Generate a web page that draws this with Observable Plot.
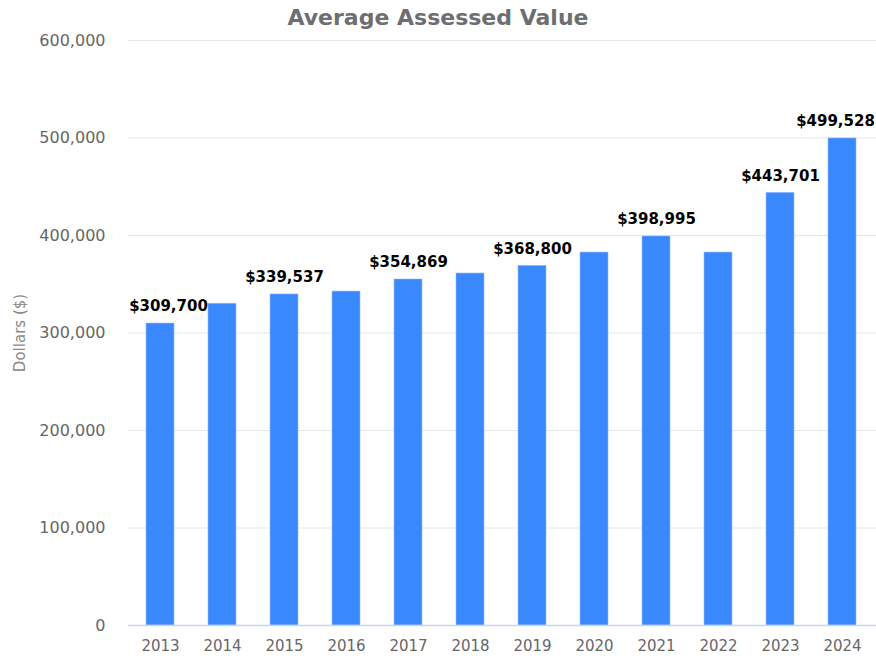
<!DOCTYPE html>
<html>
<head>
<meta charset="utf-8">
<script src="https://cdn.jsdelivr.net/npm/d3@7"></script>
<script src="https://cdn.jsdelivr.net/npm/@observablehq/plot@0.6"></script>
<style>
  body { margin: 0; background: #fff; }
  #wrap { position: relative; width: 876px; height: 658px; font-family: "DejaVu Sans", sans-serif; }
  #title { position: absolute; top: 5px; left: 0; width: 876px; text-align: center; font-weight: bold; font-size: 22px; color: #6d6e71; }
</style>
</head>
<body>
<div id="wrap"><div id="title">Average Assessed Value</div></div>
<script>
const years = ["2013","2014","2015","2016","2017","2018","2019","2020","2021","2022","2023","2024"];
const values = [309700, 330000, 339537, 342500, 354869, 361000, 368800, 382500, 398995, 382500, 443701, 499528];
const labeledYears = ["2013","2015","2017","2019","2021","2023","2024"];
const yTicks = [0, 100000, 200000, 300000, 400000, 500000, 600000];

const data = years.map((y, i) => ({year: y, value: values[i]}));
const labeled = data.filter(d => labeledYears.includes(d.year));
const first = labeled.filter(d => d.year === years[0]);
const last = labeled.filter(d => d.year === years[years.length - 1]);
const mid = labeled.filter(d => d.year !== years[0] && d.year !== years[years.length - 1]);
const fmt = d => "$" + d3.format(",")(d.value);
const labelStyle = {x: "year", y: "value", text: fmt, dy: -17, fontWeight: "bold", fontSize: 15, fill: "#000"};

const chart = Plot.plot({
  width: 876,
  height: 658,
  marginLeft: 128,
  marginRight: 0,
  marginTop: 40,
  marginBottom: 33,
  style: {fontFamily: "DejaVu Sans, sans-serif", background: "#fff"},
  x: {domain: years, range: [144, 857], paddingInner: 0.55, paddingOuter: 0, label: null},
  y: {domain: [0, 600000], label: null},
  marks: [
    Plot.gridY(yTicks, {stroke: "#e6e6e6", strokeOpacity: 1, strokeWidth: 1}),
    Plot.barY(data, {x: "year", y: "value", fill: "#3a88fe", stroke: "#8fb8ff", strokeWidth: 0.6}),
    Plot.ruleY([0], {stroke: "#ccd6eb", strokeWidth: 1.5}),
    Plot.axisY(yTicks, {tickSize: 0, tickPadding: 23, tickFormat: d3.format(","), fontSize: 16, fill: "#666", label: null}),
    Plot.axisX({tickSize: 0, tickPadding: 15, fontSize: 15, fill: "#666", label: null}),
    Plot.text(mid, labelStyle),
    Plot.text(first, {...labelStyle, dx: 8}),
    Plot.text(last, {...labelStyle, dx: -7}),
    Plot.text(["Dollars ($)"], {frameAnchor: "left", textAnchor: "middle", dx: -108, rotate: -90, fontSize: 15, fill: "#888"})
  ]
});
document.getElementById("wrap").appendChild(chart);
</script>
</body>
</html>
